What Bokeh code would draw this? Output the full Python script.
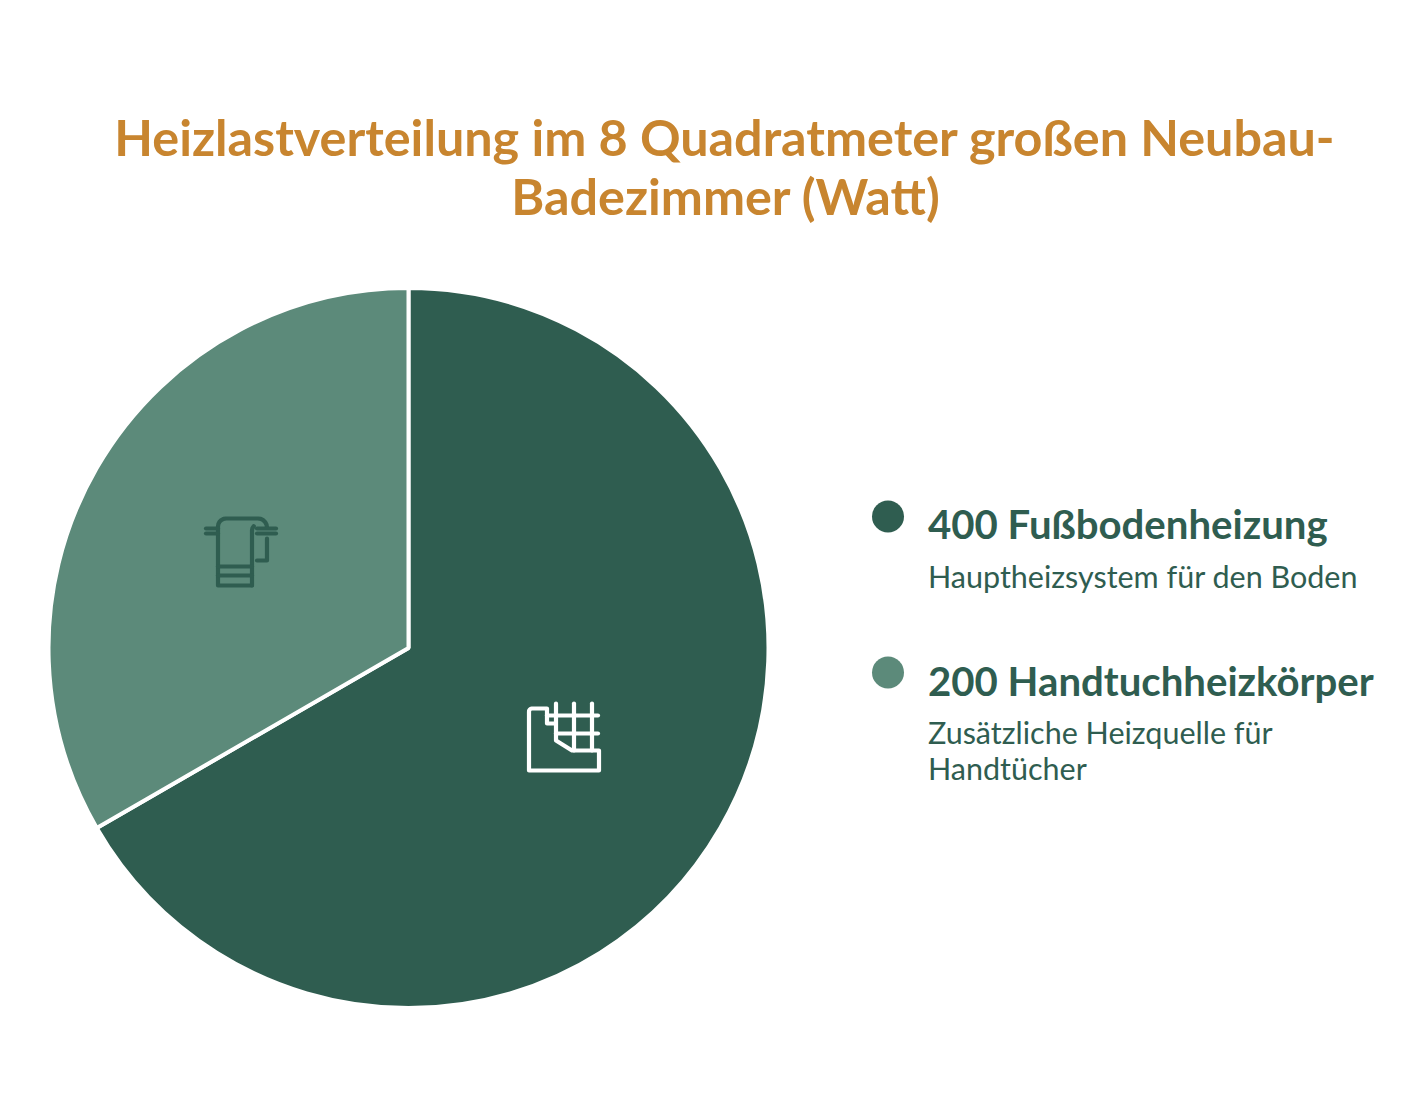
import math
from bokeh.plotting import figure
from bokeh.models import Range1d
from bokeh.core.properties import value
from bokeh.embed import file_html
from bokeh.resources import INLINE

# Data
categories = ["Fußbodenheizung", "Handtuchheizkörper"]
values = [400, 200]
details = [["Hauptheizsystem für den Boden"], ["Zusätzliche Heizquelle für", "Handtücher"]]
title_lines = ["Heizlastverteilung im 8 Quadratmeter großen Neubau-", "Badezimmer (Watt)"]
colors = ["#2F5D50", "#5C8A7A"]

W, H = 1410, 1090
FONT = value("Lato")
GOLD = "#C8852F"
DARK = "#2F5D50"


def Y(py):
    return 1106 - py


p = figure(width=W, height=H, x_range=Range1d(0, W), y_range=Range1d(Y(H), Y(0)),
           output_backend="svg", toolbar_location=None, min_border=0,
           outline_line_color=None, background_fill_color="white")
p.xaxis.visible = False
p.yaxis.visible = False
p.xgrid.visible = False
p.ygrid.visible = False

# Pie (clockwise from 12 o'clock)
total = sum(values)
cx, cy, r = 408, 647.5, 360
ang = math.pi / 2
starts, ends = [], []
for v in values:
    e = ang - 2 * math.pi * v / total
    starts.append(e)
    ends.append(ang)
    ang = e
p.wedge(x=[cx] * 2, y=[Y(cy)] * 2, radius=[r] * 2, start_angle=starts, end_angle=ends,
        fill_color=colors, line_color="white", line_width=4)


def stroke(points, color):
    p.line([q[0] - 0.5 for q in points], [Y(q[1]) for q in points], line_color=color, line_width=4.2,
           line_join="round", line_cap="round")


def arc_pts(ax, ay, rad, a0, a1, n=10):
    return [(ax + rad * math.cos(math.radians(a0 + (a1 - a0) * i / n)),
             ay + rad * math.sin(math.radians(a0 + (a1 - a0) * i / n))) for i in range(n + 1)]


# Floor heating icon
for path in [
    [(529, 711)] + arc_pts(532, 711, 3, 180, 270, 4) + [(547, 708), (547, 723), (556, 723)],
    [(556, 703), (556, 740), (572, 750), (599, 750), (599, 770), (529, 770), (529, 711)],
    [(574, 703), (574, 750)],
    [(592, 703), (592, 750)],
    [(547, 715), (598, 715)],
    [(556, 733), (598, 733)],
]:
    stroke(path, "white")

# Towel icon
for path in [
    [(252, 585), (218, 585), (218, 526)] + arc_pts(226, 526, 8, 180, 270, 5) + [(258, 518)]
    + arc_pts(258, 527, 9, 270, 360, 5),
    [(252, 585), (252, 530)] + arc_pts(258, 530, 6, 180, 270, 4)[:3],
    [(206, 528), (218, 528)],
    [(206, 533), (218, 533)],
    [(257, 528), (276, 528)],
    [(257, 533), (276, 533)],
    [(267, 538), (267, 560), (257, 560)],
    [(218, 566), (252, 566)],
    [(218, 575), (252, 575)],
]:
    stroke(path, DARK)

# Title
p.text(x=[724.5, 725.5], y=[Y(136), Y(195)], text=title_lines, text_font=FONT, text_font_style="bold",
       text_font_size="50.3px", text_color=GOLD, text_align="center", text_baseline="alphabetic")

# Legend
p.scatter(x=[887.5, 887.5], y=[Y(516), Y(672)], size=32, marker="circle", fill_color=colors, line_color=None)
p.text(x=[927.5] * 2, y=[Y(523), Y(680)], text=[f"{v} {c}" for v, c in zip(values, categories)],
       text_font=FONT, text_font_style="bold", text_font_size="40.15px", text_color=DARK,
       text_baseline="alphabetic")
detail_y = [[575], [731, 767]]
for lines, ys in zip(details, detail_y):
    p.text(x=[927.5] * len(lines), y=[Y(v) for v in ys], text=lines, text_font=FONT,
           text_font_size="30.5px", text_color=DARK, text_baseline="alphabetic")

open("out.html", "w").write(file_html(p, INLINE))
